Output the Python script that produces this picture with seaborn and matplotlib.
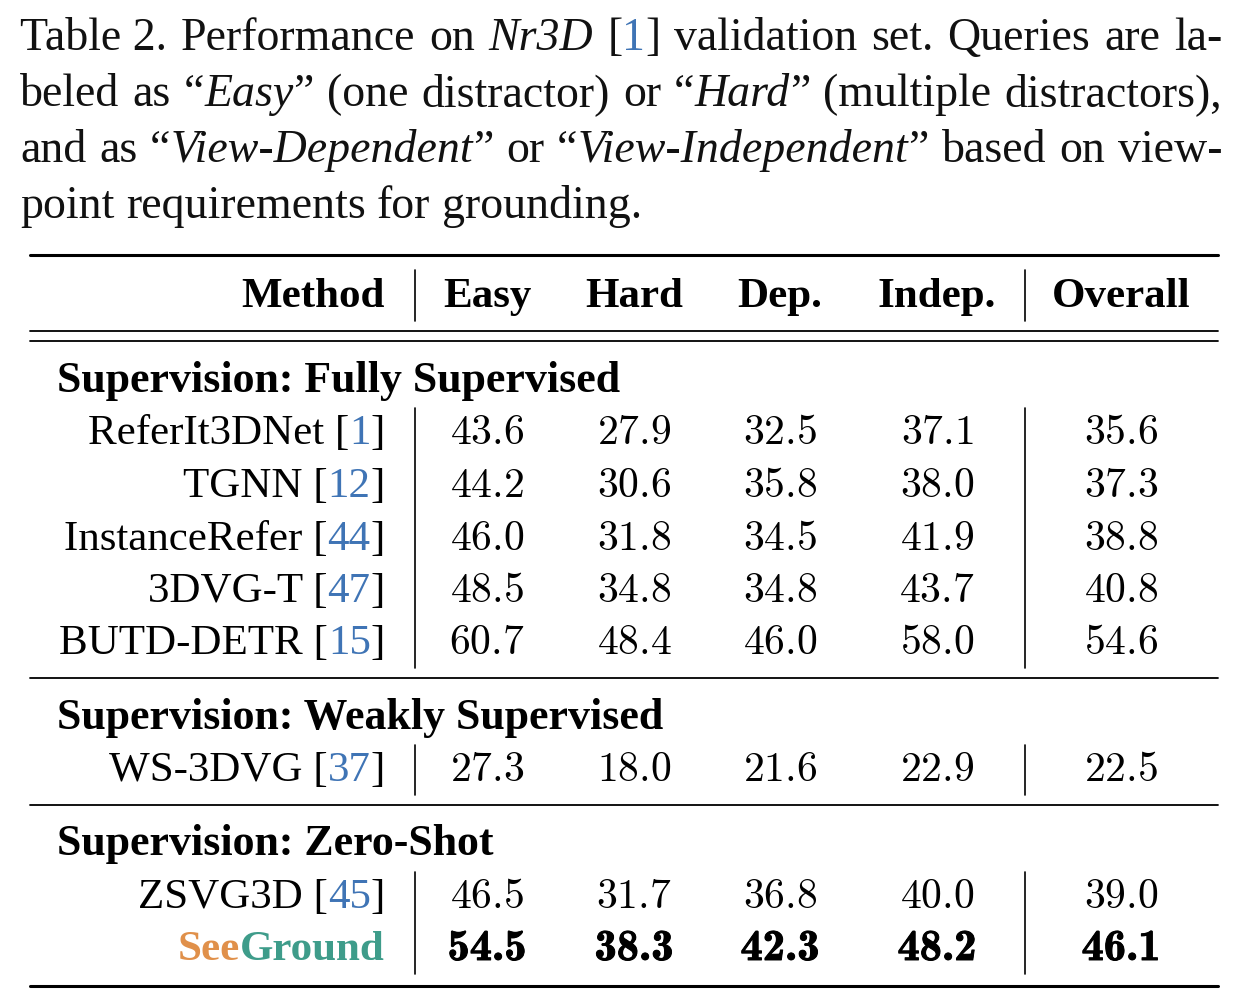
import re
import matplotlib
matplotlib.use('Agg')
import matplotlib.pyplot as plt
import matplotlib.patheffects as pe
import seaborn as sns

# Datos de la tabla
grupos = ['Supervision: Fully Supervised', 'Supervision: Weakly Supervised',
          'Supervision: Zero-Shot']
metodos = ['ReferIt3DNet', 'TGNN', 'InstanceRefer', '3DVG-T', 'BUTD-DETR',
           'WS-3DVG', 'ZSVG3D', 'SeeGround']
citas = ['1', '12', '44', '47', '15', '37', '45', None]
grupo_de = [0, 0, 0, 0, 0, 1, 2, 2]
columnas = ['Easy', 'Hard', 'Dep.', 'Indep.', 'Overall']
easy = [43.6, 44.2, 46.0, 48.5, 60.7, 27.3, 46.5, 54.5]
hard = [27.9, 30.6, 31.8, 34.8, 48.4, 18.0, 31.7, 38.3]
dep = [32.5, 35.8, 34.5, 34.8, 46.0, 21.6, 36.8, 42.3]
indep = [37.1, 38.0, 41.9, 43.7, 58.0, 22.9, 40.0, 48.2]
overall = [35.6, 37.3, 38.8, 40.8, 54.6, 22.5, 39.0, 46.1]
propio = 'SeeGround'

caption = [
    'Table~2. Performance on *Nr3D* [{1}] validation set. Queries are la-',
    'beled as “*Easy*” (one distractor) or “*Hard*” (multiple distractors),',
    'and as “*View-Dependent*” or “*View-Independent*” based on view-',
    'point requirements for grounding.',
]

C = {'cita': '#3F74B5', 'see': '#E0904A', 'ground': '#3E9C8A', 'negro': '#111111'}

sns.set_theme(style='white')
plt.rcParams['font.family'] = ['Liberation Serif', 'DejaVu Serif']
plt.rcParams['mathtext.fontset'] = 'cm'

W, H = 1238, 1000
fig = plt.figure(figsize=(W / 100, H / 100), dpi=100, facecolor='white')
ax = fig.add_axes([0, 0, 1, 1])
ax.set_xlim(0, W)
ax.set_ylim(H, 0)
ax.axis('off')
rend = fig.canvas.get_renderer()

FS_CAP = 33
FS = 31
ESP = 0.25 * FS_CAP * 100 / 72  # ancho de un espacio


def segmentos(palabra):
    out = []
    for p in re.split(r'(\*[^*]+\*|\{[^}]+\})', palabra.replace('~', ' ')):
        if not p:
            continue
        if p.startswith('*'):
            out.append((p[1:-1], 'i', C['negro']))
        elif p.startswith('{'):
            out.append((p[1:-1], 'n', C['cita']))
        else:
            out.append((p, 'n', C['negro']))
    return out


def crear(segs, y, fs=FS):
    arts = []
    for txt, sty, col in segs:
        kw = dict(fontsize=fs, va='baseline', ha='left', color=col)
        if sty == 'i':
            kw['style'] = 'italic'
        if sty == 'b':
            kw['weight'] = 'bold'
        arts.append(ax.text(0, y, txt, **kw))
    ws = [a.get_window_extent(rend).width for a in arts]
    return arts, ws


def colocar(arts, ws, x):
    for a, w in zip(arts, ws):
        a.set_x(x)
        x += w
    return x


def poner(segs, x, y, ha='left', fs=FS):
    arts, ws = crear(segs, y, fs)
    tot = sum(ws)
    if ha == 'right':
        x = x - tot
    elif ha == 'center':
        x = x - tot / 2
    colocar(arts, ws, x)


# Pie de tabla justificado
x_izq, x_der = 20, 1222
bases_cap = [50, 106, 162, 218]
for i, linea in enumerate(caption):
    palabras = [crear(segmentos(p), bases_cap[i], FS_CAP) for p in linea.split(' ')]
    total = sum(sum(ws) for _, ws in palabras)
    if i < len(caption) - 1:
        gap = (x_der - x_izq - total) / (len(palabras) - 1)
    else:
        gap = ESP
    x = x_izq
    for arts, ws in palabras:
        x = colocar(arts, ws, x) + gap

# Reglas horizontales
xl, xr = 30, 1218
ax.plot([xl, xr], [255, 255], color='black', lw=2.2)
ax.plot([xl, xr], [331, 331], color='black', lw=1.3)
ax.plot([xl, xr], [341, 341], color='black', lw=1.3)
ax.plot([xl, xr], [678, 678], color='black', lw=1.3)
ax.plot([xl, xr], [805, 805], color='black', lw=1.3)
ax.plot([xl, xr], [986, 986], color='black', lw=2.2)

x_met = 385
x_v1, x_v2 = 415, 1025
x_cols = [487, 634, 780, 937, 1121]

# Encabezado
base_enc = 307
poner([('Method', 'b', 'black')], x_met, base_enc, 'right')
for c, xc in zip(columnas, x_cols):
    poner([(c, 'b', 'black')], xc, base_enc, 'center')
for xv in (x_v1, x_v2):
    ax.plot([xv, xv], [270, 321], color='black', lw=1.2)

# Cuerpo
bases_grupo = [392, 729, 855]
bases_fila = [444, 497, 550, 602, 654, 781, 908, 960]
tramos_v = [(408, 668), (745, 795), (872, 974)]

for g, nombre in enumerate(grupos):
    poner([(nombre, 'b', 'black')], 57, bases_grupo[g], 'left', FS + 0.6)
    y0, y1 = tramos_v[g]
    for xv in (x_v1, x_v2):
        ax.plot([xv, xv], [y0, y1], color='black', lw=1.2)

valores = list(zip(easy, hard, dep, indep, overall))
negrita = [pe.Stroke(linewidth=0.7, foreground='black'), pe.Normal()]
for i, m in enumerate(metodos):
    y = bases_fila[i]
    if m == propio:
        segs = [('See', 'b', C['see']), ('Ground', 'b', C['ground'])]
    else:
        segs = [(m + ' [', 'n', 'black'), (citas[i], 'n', C['cita']), (']', 'n', 'black')]
    poner(segs, x_met, y, 'right')
    for v, xc in zip(valores[i], x_cols):
        if m == propio:
            ax.text(xc, y, '%.1f' % v, fontsize=FS + 1, ha='center', va='baseline',
                    color='black', family='cmb10', path_effects=negrita)
        else:
            ax.text(xc, y, r'$%.1f$' % v, fontsize=FS - 1, ha='center', va='baseline',
                    color='black')

fig.savefig('out.png', dpi=100, facecolor='white')
